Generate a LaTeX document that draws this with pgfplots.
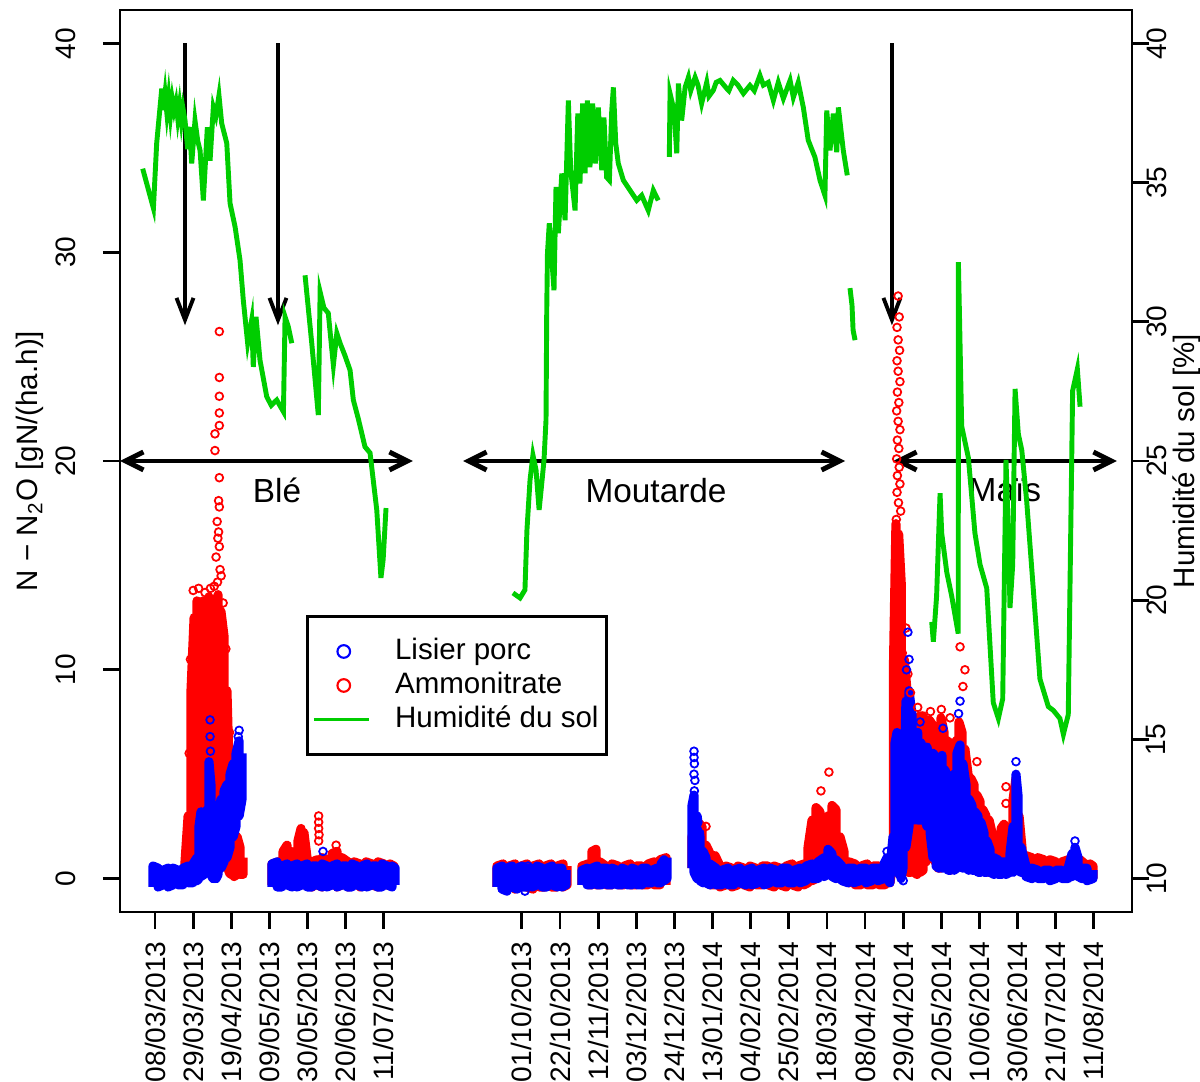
\documentclass[border=0pt]{standalone}
\usepackage{fontspec}
\setmainfont{Liberation Sans}
\usepackage{pgfplots}
\pgfplotsset{compat=1.18}
\usetikzlibrary{arrows.meta}
\definecolor{rgreen}{RGB}{0,205,0}
\definecolor{rred}{RGB}{255,0,0}
\definecolor{rblue}{RGB}{0,0,255}

\pgfplotsset{
  rframe/.style={
    scale only axis, width=10.12cm, height=9.02cm,
    xmin=-19.3, xmax=538,
    tick align=outside, major tick length=0.17cm,
    major tick style={black, line width=0.8pt},
    /pgf/number format/assume math mode=true,
    tick label style={font=\fontsize{8}{9.6}\selectfont},
    label style={font=\fontsize{8.4}{10}\selectfont},
  },
  core/.style={line width=2.6pt, line join=round, unbounded coords=jump},
  dots/.style={only marks, mark=o, mark size=1.1pt, mark options={line width=0.5pt}},
  legdots/.style={only marks, mark=o, mark size=1.8pt, mark options={line width=0.6pt}},
  shortline/.style={legend image code/.code={\draw[##1, line width=0.75pt] (0cm,0cm) -- (0.55cm,0cm);}},
}

\begin{document}
\begin{tikzpicture}
\begin{axis}[rframe, name=main,
  axis line style={line width=0.8pt},
  ymin=-1.6, ymax=41.6, ytick={0,10,20,30,40},
  xtick pos=bottom, ytick pos=left,
  xtick={0,21,42,63,84,105,126,202,223,244,265,286,307,328,349,370,391,412,433,454,475,496,517},
  xticklabels={08/03/2013,29/03/2013,19/04/2013,09/05/2013,30/05/2013,20/06/2013,11/07/2013,
    01/10/2013,22/10/2013,12/11/2013,03/12/2013,24/12/2013,13/01/2014,04/02/2014,25/02/2014,
    18/03/2014,08/04/2014,29/04/2014,20/05/2014,10/06/2014,30/06/2014,21/07/2014,11/08/2014},
  xticklabel style={rotate=90, anchor=east},
  yticklabel style={rotate=90, anchor=south},
  yticklabel shift=0.15cm,
  ylabel={N − N\textsubscript{2}O [gN/(ha.h)]},
  ylabel style={at={(axis description cs:-0.089,0.5)}, anchor=center},
]
% Ammonitrate: dense hourly cloud (min/max envelope) then isolated points
\addplot[rred, core] coordinates {
(16.5,0.0)(16.5,0.8)(18.2,3.0)(18.2,0.0)(19.8,0.1)(19.8,9.0)(21.5,12.5)(21.5,0.2)(23.1,0.3)(23.1,13.3)
(24.8,12.6)(24.8,0.4)(26.4,0.6)(26.4,13.3)(28.1,12.2)(28.1,0.8)(29.7,1.0)(29.7,13.5)(31.4,12.8)(31.4,1.2)
(33.0,1.0)(33.0,12.4)(34.7,13.6)(34.7,0.8)(36.3,0.8)(36.3,12.8)(38.0,11.6)(38.0,0.7)(39.6,0.5)(39.6,9.0)
(40.7,5.5)(40.7,0.3)(41.9,0.2)(41.9,3.2)(43.5,2.6)(43.5,0.1)(45.2,0.2)(45.2,2.0)(46.8,1.5)(46.8,0.2)
(48.5,0.2)(48.5,1.0)
(55,nan)
(64.4,-0.3)(64.4,0.7)(67.7,0.8)(67.7,-0.3)(70.5,-0.3)(70.5,1.3)(72.7,1.6)(72.7,-0.2)(74.9,-0.3)(74.9,1.3)
(77.1,0.9)(77.1,-0.3)(78.7,-0.3)(78.7,1.8)(80.4,2.4)(80.4,-0.2)(82.0,-0.3)(82.0,2.2)(83.7,1.0)(83.7,-0.3)
(86.5,-0.4)(86.5,0.8)(89.2,0.9)(89.2,-0.3)(92.0,-0.4)(92.0,1.0)(94.7,0.9)(94.7,-0.3)(97.5,-0.3)(97.5,1.2)
(100.2,1.3)(100.2,-0.4)(103.0,-0.3)(103.0,1.0)(106.3,0.8)(106.3,-0.4)(109.6,-0.3)(109.6,0.8)(112.9,0.7)(112.9,-0.4)
(116.2,-0.3)(116.2,0.8)(119.5,0.7)(119.5,-0.3)(122.8,-0.4)(122.8,0.8)(126.1,0.7)(126.1,-0.3)(129.4,-0.3)(129.4,0.7)
(131.6,0.6)(131.6,-0.3)
(150,nan)
(188.3,-0.4)(188.3,0.6)(191.6,0.7)(191.6,-0.5)(194.9,-0.4)(194.9,0.6)(198.2,0.7)(198.2,-0.5)(201.5,-0.4)(201.5,0.6)
(204.8,0.7)(204.8,-0.4)(208.1,-0.5)(208.1,0.6)(211.5,0.7)(211.5,-0.4)(214.8,-0.4)(214.8,0.6)(218.1,0.7)(218.1,-0.4)
(221.4,-0.4)(221.4,0.6)(224.7,0.7)(224.7,-0.4)(226.9,-0.3)(226.9,0.6)
(230,nan)
(235.1,-0.3)(235.1,0.6)(238.4,0.7)(238.4,-0.3)(240.6,-0.3)(240.6,1.3)(242.8,1.4)(242.8,-0.3)(245.0,-0.3)(245.0,0.8)
(248.3,0.6)(248.3,-0.3)(251.7,-0.3)(251.7,0.7)(255.0,0.6)(255.0,-0.3)(258.3,-0.3)(258.3,0.6)(261.6,0.7)(261.6,-0.3)
(264.9,-0.3)(264.9,0.6)(268.2,0.6)(268.2,-0.3)(271.5,-0.3)(271.5,0.7)(274.8,0.8)(274.8,-0.3)(278.1,-0.3)(278.1,0.9)
(281.4,1.0)(281.4,-0.3)
(290,nan)
(295.7,0.5)(295.7,2.0)(297.4,2.6)(297.4,0.3)(299.0,0.0)(299.0,2.7)(301.2,2.5)(301.2,-0.1)(303.4,-0.2)(303.4,1.6)
(305.6,1.2)(305.6,-0.3)(308.4,-0.3)(308.4,1.1)(311.1,0.6)(311.1,-0.4)(314.4,-0.3)(314.4,0.6)(317.7,0.5)(317.7,-0.4)
(321.0,-0.3)(321.0,0.6)(324.3,0.5)(324.3,-0.3)(327.6,-0.4)(327.6,0.6)(330.9,0.5)(330.9,-0.3)(334.3,-0.3)(334.3,0.6)
(337.6,0.6)(337.6,-0.3)(340.9,-0.4)(340.9,0.6)(344.2,0.5)(344.2,-0.3)(347.5,-0.4)(347.5,0.6)(350.8,0.7)(350.8,-0.3)
(354.1,-0.4)(354.1,0.6)(357.4,0.7)(357.4,-0.3)(359.6,-0.2)(359.6,1.5)(361.8,2.8)(361.8,-0.1)(364.0,0.0)(364.0,3.4)
(366.2,3.2)(366.2,0.2)(368.4,0.2)(368.4,2.6)(370.6,3.0)(370.6,0.2)(372.8,0.2)(372.8,3.5)(375.0,3.3)(375.0,0.1)
(377.2,0.0)(377.2,2.0)(379.4,1.3)(379.4,-0.1)(382.2,-0.2)(382.2,0.8)(385.5,0.7)(385.5,-0.3)(388.8,-0.3)(388.8,0.6)
(392.1,0.7)(392.1,-0.3)(395.4,-0.3)(395.4,0.6)(398.7,0.6)(398.7,-0.3)(402.0,-0.3)(402.0,0.7)(404.7,0.6)(404.7,-0.2)
(406.6,1.0)(406.6,10.0)(408.0,17.0)(408.0,3.0)(409.5,4.0)(409.5,16.5)(411.0,14.0)(411.0,2.0)(412.6,0.5)(412.6,10.5)
(414.6,8.5)(414.6,0.3)(416.3,0.3)(416.3,7.5)(418.0,7.2)(418.0,0.3)(419.6,0.2)(419.6,7.6)(421.3,7.8)(421.3,0.3)
(422.9,0.4)(422.9,7.8)(424.6,7.3)(424.6,0.8)(426.3,2.2)(426.3,7.6)(427.9,7.4)(427.9,2.0)(429.5,0.8)(429.5,7.2)
(431.2,7.2)(431.2,0.5)(432.8,0.5)(432.8,7.7)(434.5,7.0)(434.5,0.6)(436.1,0.5)(436.1,6.6)(437.8,6.5)(437.8,0.4)
(439.4,0.5)(439.4,6.2)(441.1,6.6)(441.1,0.5)(442.7,0.8)(442.7,7.5)(444.4,7.0)(444.4,1.0)(446.0,0.8)(446.0,6.2)
(447.7,5.0)(447.7,0.6)(449.3,0.5)(449.3,4.8)(451.0,4.5)(451.0,0.5)(452.6,0.4)(452.6,4.0)(454.3,3.7)(454.3,0.4)
(455.9,0.4)(455.9,3.3)(457.6,3.0)(457.6,0.4)(459.3,0.3)(459.3,2.8)(460.9,2.2)(460.9,0.3)(462.6,0.3)(462.6,1.6)
(464.2,1.8)(464.2,0.3)(465.9,0.3)(465.9,2.4)(467.5,2.6)(467.5,0.3)(469.2,0.4)(469.2,2.2)(470.8,2.3)(470.8,0.4)
(472.5,0.4)(472.5,3.8)(474.1,4.8)(474.1,0.4)(475.8,0.4)(475.8,3.0)(477.4,1.5)(477.4,0.4)(479.6,0.4)(479.6,1.1)
(482.9,1.0)(482.9,0.3)(486.2,0.3)(486.2,1.0)(489.5,0.9)(489.5,0.3)(492.8,0.2)(492.8,0.9)(496.1,0.8)(496.1,0.2)
(499.4,0.2)(499.4,0.8)(502.8,0.9)(502.8,0.2)(505.0,0.3)(505.0,1.0)(507.2,1.2)(507.2,0.3)(509.4,0.2)(509.4,0.9)
(512.1,0.7)(512.1,0.1)(514.9,0.0)(514.9,0.7)(516.5,0.6)(516.5,0.0)
};
\addplot[rred, dots] coordinates {
(35.4,26.2)(35.4,24.0)(35.4,23.1)(35.4,22.3)(35.4,21.7)(33.0,21.3)(33.0,20.5)(35.4,19.2)(35.0,18.1)(35.4,17.8)
(34.2,17.1)(35.0,16.6)(34.6,16.3)(35.4,15.9)(33.6,15.4)(35.8,14.8)(34.4,14.2)(36.4,14.5)(32.6,14.0)
(21.0,13.8)(24.0,13.9)(27.5,13.7)(30.5,13.9)(37.5,13.2)(39.0,11.0)(41.0,7.0)(19.5,10.5)(18.8,6.0)
(90.1,3.0)(90.1,2.7)(90.1,2.4)(90.3,2.1)(90.1,1.8)(99.7,1.6)
(303.4,2.5)(366.7,4.2)(371.1,5.1)(377.2,1.9)
(409.2,27.9)(409.8,26.9)(408.6,26.4)(409.2,25.8)(410.0,25.3)(408.6,24.8)(409.2,24.3)(410.2,23.8)(408.8,23.3)
(409.6,22.8)(408.4,22.4)(409.2,21.9)(410.2,21.5)(408.8,21.0)(409.6,20.6)(408.4,20.1)(409.8,19.7)(408.8,19.3)
(410.2,18.9)(408.6,18.5)(409.4,18.0)(410.6,17.6)(408.2,17.2)
(443.3,11.1)(446.0,10.0)(444.9,9.2)(437.8,7.7)(452.6,5.6)(468.6,4.4)(468.6,3.6)(414.6,9.8)(416.0,8.9)
(411.5,10.8)(413.5,12.0)(420.0,8.2)(427.0,8.0)(433.0,8.1)
};
% Lisier porc
\addplot[rblue, core] coordinates {
(-1.1,-0.4)(-1.1,0.6)(1.7,0.5)(1.7,-0.4)(4.4,-0.3)(4.4,0.4)(7.2,0.5)(7.2,-0.4)(9.9,-0.3)(9.9,0.5)
(12.7,0.4)(12.7,-0.3)(15.4,-0.3)(15.4,0.5)(18.2,0.6)(18.2,-0.2)(20.9,-0.2)(20.9,0.7)(23.1,1.0)(23.1,-0.1)
(24.2,0.0)(24.2,2.5)(25.3,3.2)(25.3,0.1)(27.0,0.2)(27.0,3.0)(28.6,3.3)(28.6,0.5)(29.7,0.5)(29.7,5.6)
(30.8,4.5)(30.8,0.2)(31.9,0.0)(31.9,3.2)(33.6,2.5)(33.6,0.0)(34.7,0.2)(34.7,3.0)(36.3,3.8)(36.3,0.5)
(38.0,0.8)(38.0,4.2)(39.6,4.5)(39.6,1.0)(41.3,1.5)(41.3,5.0)(43.0,5.5)(43.0,2.0)(44.6,2.5)(44.6,6.0)
(46.3,6.6)(46.3,3.0)(47.9,3.8)(47.9,6.0)
(55,nan)
(64.4,-0.4)(64.4,0.7)(67.2,0.8)(67.2,-0.4)(69.9,-0.4)(69.9,0.6)(72.7,0.7)(72.7,-0.3)(75.4,-0.4)(75.4,0.6)
(78.2,0.7)(78.2,-0.4)(80.9,-0.3)(80.9,0.6)(83.7,0.7)(83.7,-0.4)(86.5,-0.4)(86.5,0.6)(89.2,0.6)(89.2,-0.3)
(92.0,-0.4)(92.0,0.7)(94.7,0.6)(94.7,-0.4)(97.5,-0.3)(97.5,0.6)(100.2,0.7)(100.2,-0.4)(103.0,-0.3)(103.0,0.6)
(105.7,0.6)(105.7,-0.4)(108.5,-0.4)(108.5,0.7)(111.2,0.6)(111.2,-0.3)(114.0,-0.4)(114.0,0.6)(116.7,0.7)(116.7,-0.4)
(119.5,-0.3)(119.5,0.6)(122.2,0.6)(122.2,-0.4)(125.0,-0.4)(125.0,0.7)(127.8,0.6)(127.8,-0.3)(130.5,-0.4)(130.5,0.6)
(132.2,0.5)(132.2,-0.3)
(150,nan)
(188.3,-0.4)(188.3,0.5)(191.1,0.6)(191.1,-0.5)(193.8,-0.6)(193.8,0.5)(196.6,0.6)(196.6,-0.4)(199.3,-0.5)(199.3,0.5)
(202.1,0.6)(202.1,-0.4)(204.8,-0.4)(204.8,0.5)(207.6,0.5)(207.6,-0.4)(210.4,-0.3)(210.4,0.6)(213.1,0.5)(213.1,-0.4)
(215.9,-0.4)(215.9,0.5)(218.6,0.6)(218.6,-0.3)(221.4,-0.4)(221.4,0.5)(224.1,0.5)(224.1,-0.4)(226.3,-0.3)(226.3,0.4)
(230,nan)
(235.1,-0.3)(235.1,0.4)(237.9,0.5)(237.9,-0.3)(240.6,-0.3)(240.6,0.5)(243.4,0.6)(243.4,-0.3)(246.1,-0.3)(246.1,0.5)
(248.9,0.5)(248.9,-0.3)(251.7,-0.3)(251.7,0.5)(254.4,0.4)(254.4,-0.3)(257.2,-0.3)(257.2,0.5)(259.9,0.4)(259.9,-0.3)
(262.7,-0.3)(262.7,0.5)(265.4,0.4)(265.4,-0.3)(268.2,-0.3)(268.2,0.5)(270.9,0.5)(270.9,-0.2)(273.7,-0.2)(273.7,0.4)
(276.4,0.5)(276.4,-0.2)(278.6,-0.2)(278.6,0.7)(280.3,0.9)(280.3,-0.1)(281.9,0.0)(281.9,1.0)
(290,nan)
(295.7,0.5)(295.7,3.5)(296.8,4.0)(296.8,0.3)(298.5,0.0)(298.5,3.0)(300.1,2.0)(300.1,-0.1)(301.8,-0.2)(301.8,1.3)
(303.4,1.0)(303.4,-0.2)(305.6,-0.3)(305.6,0.7)(308.9,0.5)(308.9,-0.3)(312.2,-0.3)(312.2,0.4)(315.5,0.5)(315.5,-0.3)
(318.8,-0.3)(318.8,0.4)(322.1,0.5)(322.1,-0.2)(325.4,-0.3)(325.4,0.4)(328.7,0.5)(328.7,-0.3)(332.0,-0.2)(332.0,0.4)
(335.4,0.5)(335.4,-0.3)(338.7,-0.2)(338.7,0.5)(342.0,0.4)(342.0,-0.2)(345.3,-0.2)(345.3,0.5)(348.6,0.5)(348.6,-0.2)
(351.9,-0.2)(351.9,0.4)(355.2,0.5)(355.2,-0.2)(358.5,-0.1)(358.5,0.6)(361.8,0.7)(361.8,0.0)(365.1,0.0)(365.1,0.8)
(368.4,1.0)(368.4,0.1)(370.6,0.2)(370.6,1.4)(372.8,1.2)(372.8,0.1)(375.0,0.0)(375.0,0.9)(378.3,0.6)(378.3,-0.1)
(381.6,-0.2)(381.6,0.5)(384.9,0.5)(384.9,-0.2)(388.2,-0.1)(388.2,0.5)(391.5,0.5)(391.5,-0.2)(394.8,-0.1)(394.8,0.5)
(398.1,0.5)(398.1,-0.1)(401.4,0.0)(401.4,0.7)(403.1,1.0)(403.1,0.0)(404.7,-0.2)(404.7,0.5)(406.4,2.0)(406.4,0.5)
(407.5,1.0)(407.5,6.5)(408.6,7.0)(408.6,0.5)(409.7,0.2)(409.7,4.0)(410.8,2.0)(410.8,0.0)(411.9,0.5)(411.9,1.5)
(413.5,8.5)(413.5,1.5)(415.2,2.5)(415.2,9.0)(416.9,7.8)(416.9,3.0)(418.5,2.8)(418.5,6.8)(420.0,7.0)(420.0,2.8)
(421.8,2.8)(421.8,6.5)(423.5,6.0)(423.5,3.0)(425.1,2.5)(425.1,6.3)(426.8,5.5)(426.8,2.2)(428.4,1.0)(428.4,6.0)
(430.1,5.8)(430.1,0.6)(431.7,0.5)(431.7,5.5)(433.4,5.9)(433.4,0.5)(435.0,0.5)(435.0,5.2)(436.7,4.8)(436.7,0.4)
(438.3,0.4)(438.3,4.5)(440.0,5.0)(440.0,0.4)(441.6,0.5)(441.6,6.0)(443.3,6.4)(443.3,0.6)(444.9,0.5)(444.9,5.5)
(446.6,4.5)(446.6,0.5)(448.2,0.4)(448.2,3.8)(449.9,3.5)(449.9,0.4)(451.5,0.4)(451.5,3.2)(453.2,3.0)(453.2,0.3)
(454.8,0.3)(454.8,2.7)(456.5,2.2)(456.5,0.3)(458.1,0.3)(458.1,1.8)(459.8,1.4)(459.8,0.3)(462.0,0.2)(462.0,1.0)
(464.2,0.9)(464.2,0.2)(466.4,0.2)(466.4,0.8)(468.6,0.8)(468.6,0.2)(470.8,0.3)(470.8,1.2)(472.5,2.5)(472.5,0.3)
(474.1,0.5)(474.1,5.0)(475.2,4.0)(475.2,0.4)(476.9,0.3)(476.9,1.5)(479.6,0.6)(479.6,0.1)(482.9,0.0)(482.9,0.5)
(486.2,0.4)(486.2,0.0)(489.5,0.0)(489.5,0.4)(492.8,0.4)(492.8,-0.1)(496.1,0.0)(496.1,0.4)(499.4,0.4)(499.4,0.0)
(502.8,0.0)(502.8,0.5)(505.0,1.2)(505.0,0.1)(506.6,0.2)(506.6,1.5)(508.3,1.0)(508.3,0.1)(510.5,0.0)(510.5,0.5)
(513.2,0.5)(513.2,-0.1)(516.5,0.0)(516.5,0.4)
};
\addplot[rblue, dots] coordinates {
(30.3,7.6)(30.3,6.8)(30.5,6.1)(46.3,7.1)(45.8,6.8)(92.5,1.3)(203.7,-0.6)(205.4,0.6)
(296.8,6.1)(296.8,5.8)(297.0,5.5)(296.8,5.0)(297.3,4.7)(297.0,4.2)(403.1,1.3)
(414.6,11.8)(415.2,10.5)(413.8,10.0)(421.3,7.5)(433.9,7.2)(443.3,8.5)(442.5,7.9)(412.0,-0.1)(474.1,5.6)(506.6,1.8)
};
% annotations
\draw[line width=1.1pt, -{Straight Barb[length=2.2mm,width=1.7mm]}] (axis cs:16.5,40) -- (axis cs:16.5,26.5);
\draw[line width=1.1pt, -{Straight Barb[length=2.2mm,width=1.7mm]}] (axis cs:67.7,40) -- (axis cs:67.7,26.5);
\draw[line width=1.1pt, -{Straight Barb[length=2.2mm,width=1.7mm]}] (axis cs:405.8,40) -- (axis cs:405.8,26.5);
\draw[line width=1.4pt, {Straight Barb[length=1.8mm,width=1.8mm]}-{Straight Barb[length=1.8mm,width=1.8mm]}] (axis cs:-19.3,20) -- (axis cs:142,20);
\draw[line width=1.4pt, {Straight Barb[length=1.8mm,width=1.8mm]}-{Straight Barb[length=1.8mm,width=1.8mm]}] (axis cs:169.6,20) -- (axis cs:380,20);
\draw[line width=1.4pt, {Straight Barb[length=1.8mm,width=1.8mm]}-{Straight Barb[length=1.8mm,width=1.8mm]}] (axis cs:406.4,20) -- (axis cs:529.7,20);
\node[font=\fontsize{9.5}{11}\selectfont] at (axis cs:67.2,18.6) {Blé};
\node[font=\fontsize{9.5}{11}\selectfont] at (axis cs:275.9,18.6) {Moutarde};
\node[font=\fontsize{9.5}{11}\selectfont] at (axis cs:468,18.6) {Maïs};
\end{axis}

\begin{axis}[rframe,
  axis y line*=right, axis x line=none,
  axis line style={line width=0.8pt},
  ymin=8.8, ymax=41.2, ytick={10,15,20,25,30,35,40},
  yticklabel style={rotate=90, anchor=north},
  yticklabel shift=-0.15cm,
  ylabel={Humidité du sol [\%]},
  ylabel style={at={(axis description cs:1.054,0.5)}, anchor=center},
  legend cell align=left,
  legend style={at={(axis description cs:0.184,0.329)}, anchor=north west,
    draw=black, line width=0.7pt, font=\fontsize{8.4}{10}\selectfont,
    inner xsep=0.05cm, inner ysep=0.18cm,
    nodes={inner sep=0.03cm, text height=0.22cm, text depth=0.06cm},
    /tikz/every odd column/.append style={column sep=0.22cm}},
]
\addlegendimage{rblue, legdots}
\addlegendentry{Lisier porc}
\addlegendimage{rred, legdots}
\addlegendentry{Ammonitrate}
\addplot[rgreen, line width=1.4pt, unbounded coords=jump, shortline] coordinates {
(-6.8,35.50)(-0.9,34.08)(0.9,36.41)(3.7,38.38)(4.5,37.6)(5.5,38.2)(6.5,37.5)(7.5,38.1)(8.5,37.4)(9.5,38.0)
(10.5,37.6)(11.5,37.9)(12.5,37.3)(13.5,37.8)(14.5,37.2)(15.4,37.66)(16.5,37.23)(18.0,36.2)(19.0,37.0)(20.2,35.69)
(22.0,37.23)(23.5,36.5)(24.8,36.15)(26.6,34.36)(28.8,36.99)(30.3,35.79)(32.1,37.71)(33.5,37.4)(35.2,38.13)(36.7,37.13)
(39.5,36.41)(41.3,34.26)(44.1,33.40)(46.8,32.21)(48.6,30.78)(51.0,29.23)(53.2,30.06)(54.1,28.38)(55.6,30.18)(57.8,28.62)
(61.5,27.31)(64.0,27.0)(67.0,27.19)(70.7,26.77)(71.6,30.18)(73.4,29.82)(75.3,29.23)
(78,nan)
(82.6,31.67)(86.3,29.23)(89.9,26.65)(90.9,31.07)(93.0,30.5)(95.4,30.31)(98.2,28.44)(100.1,29.59)(101.9,29.23)(104.5,28.8)
(107.4,28.26)(109.2,27.19)(112.0,26.5)(115.6,25.51)(118.4,25.29)(122.1,23.24)(124.4,20.80)(125.6,21.45)(127.2,23.31)
(150,nan)
(197.1,20.26)(201.0,20.08)(203.7,20.37)(204.8,22.52)(206.5,24.32)(208.1,25.21)(209.8,24.68)(211.5,23.24)(212.6,23.96)(214.2,25.03)
(215.3,26.47)(215.7,30.42)(216.1,32.46)(217.1,33.54)(219.7,31.13)(220.8,34.84)(222.1,33.18)(224.0,35.33)(225.8,33.65)(227.6,37.95)
(228.9,35.44)(231.3,34.00)(232.8,37.48)(234.0,34.97)(235.5,37.84)(236.8,35.33)(238.1,37.95)(239.5,35.55)(241.0,37.84)(242.5,35.69)
(244.1,37.70)(246.0,35.44)(247.2,37.34)(248.7,35.19)(250.2,35.08)(251.5,37.59)(252.4,38.42)(253.7,36.41)(255.1,35.69)(257.9,35.08)
(261.6,34.72)(265.3,34.36)(268.0,34.54)(271.6,34.00)(274.4,34.72)(277.1,34.36)
(280,nan)
(283.2,35.92)(283.6,38.20)(285.8,37.59)(287.3,36.05)(288.2,38.56)(290.0,37.23)(291.9,38.42)(293.7,38.78)(295.0,38.3)(297.4,38.78)
(299.0,38.5)(301.0,37.84)(303.8,38.60)(305.0,38.1)(307.4,38.31)(309.0,38.6)(311.1,38.67)(314.8,38.38)(316.0,38.3)(318.4,38.67)
(321.0,38.5)(324.0,38.20)(327.6,38.49)(330.0,38.3)(333.1,38.85)(335.0,38.5)(337.7,38.60)(340.5,37.95)(343.2,38.60)(346.0,38.02)
(349.7,38.67)(351.5,38.06)(354.2,38.60)(357.0,37.70)(359.7,36.52)(363.4,35.91)(366.2,35.08)(368.9,34.54)(369.9,37.59)(371.7,36.16)
(373.5,37.48)(375.4,36.09)(376.3,37.70)(379.0,36.16)(381.2,35.26)
(382,nan)
(382.7,31.21)(383.8,30.60)(384.4,29.70)(385.5,29.34)
(400,nan)
(427.7,19.22)(428.6,18.51)(430.4,20.15)(432.3,23.84)(433.2,22.41)(436.0,21.00)(438.7,20.15)(442.3,18.80)(442.4,32.14)(444.2,26.25)
(447.9,25.11)(451.5,22.41)(454.3,21.28)(458.0,20.43)(461.6,16.32)(464.4,15.75)(466.8,16.46)(468.6,25.04)(469.9,22.41)(470.8,19.72)
(472.3,21.28)(473.6,27.59)(475.4,25.97)(477.3,25.39)(480.0,23.56)(483.6,20.43)(487.3,17.17)(491.9,16.18)(494.7,16.04)(498.3,15.75)
(500.2,15.18)(502.9,15.89)(505.3,27.52)(507.9,28.30)(509.4,26.95)
};
\addlegendentry{Humidité du sol}
\end{axis}
\pgfresetboundingbox
\path (main.south west) ++(-1.2cm,-1.7cm) rectangle ++(12cm,10.82cm);
\end{tikzpicture}
\end{document}
